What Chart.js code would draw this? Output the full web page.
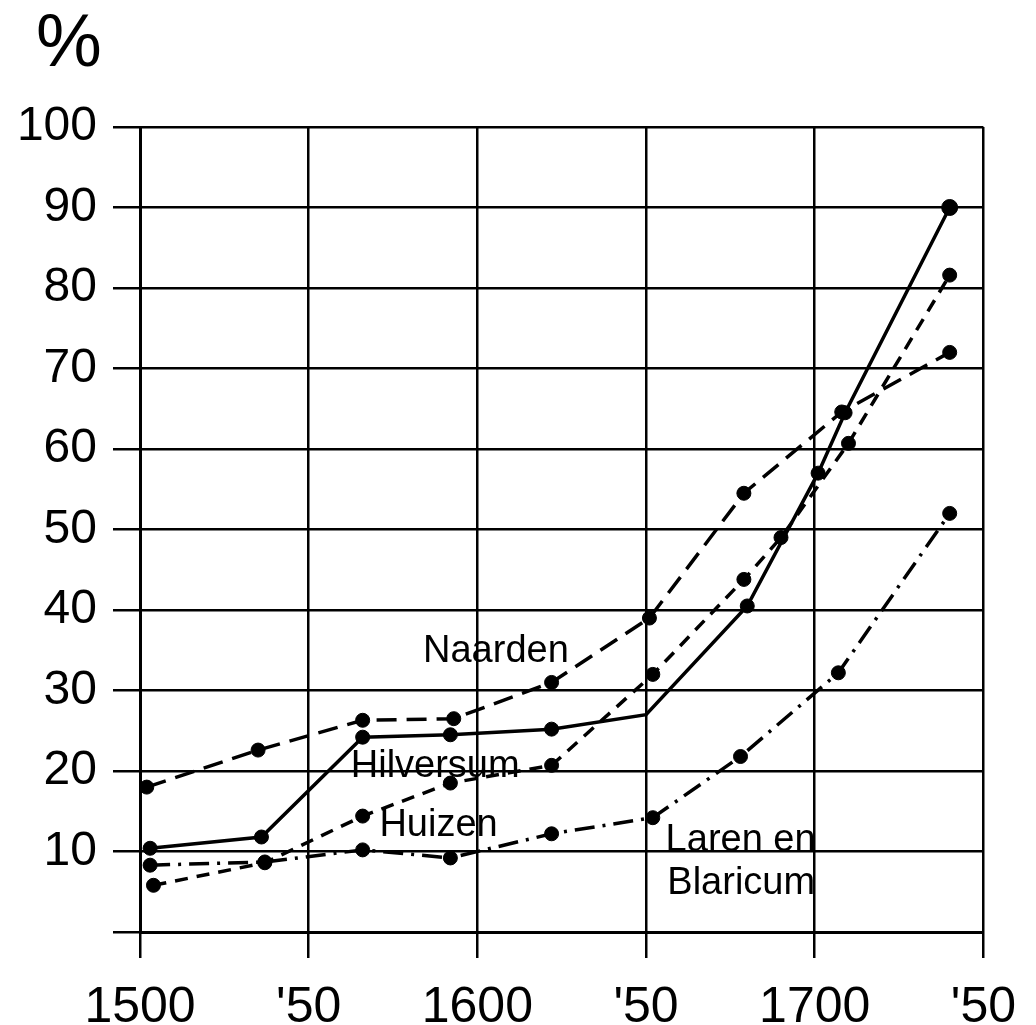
<!DOCTYPE html>
<html>
<head>
<meta charset="utf-8">
<script src="https://cdn.jsdelivr.net/npm/chart.js@4"></script>
<style>
  html, body { margin: 0; padding: 0; background: #fff; }
  #wrap { position: relative; width: 1036px; height: 1025px; }
</style>
</head>
<body>
<div id="wrap"><canvas id="myCanvas"></canvas></div>
<script>
/* values (share in %, per year) */
var naardenYears  = [1502, 1535, 1566, 1593, 1622, 1651, 1679, 1708, 1740];
var naardenValues = [18, 22.6, 26.3, 26.5, 31, 39, 54.5, 64.6, 72];

var hilversumYears  = [1503, 1536, 1566, 1592, 1622, 1650, 1680, 1701, 1709, 1740];
var hilversumValues = [10.4, 11.8, 24.2, 24.5, 25.2, 27, 40.5, 57, 64.5, 90];

var huizenYears  = [1504, 1537, 1566, 1592, 1622, 1652, 1679, 1690, 1710, 1740];
var huizenValues = [5.8, 8.6, 14.4, 18.5, 20.7, 32, 43.8, 49, 60.7, 81.6];

var larenYears  = [1503, 1537, 1566, 1592, 1622, 1652, 1678, 1707, 1740];
var larenValues = [8.3, 8.7, 10.2, 9.2, 12.2, 14.2, 21.8, 32.2, 52];

var xTickLabels = {1500: '1500', 1550: "'50", 1600: '1600', 1650: "'50", 1700: '1700', 1750: "'50"};

var FONT = '"Liberation Sans", Arial, Helvetica, sans-serif';

/* turns two arrays into the {x, y} points Chart.js wants */
function toPoints(years, values) {
  return years.map(function(y, i) { return {x: y, y: values[i]}; });
}

/* names written next to the lines, plus the % sign above the y axis */
var lineLabels = {
  id: 'lineLabels',
  afterDraw: function(chart) {
    var ctx = chart.ctx;
    var xs = chart.scales.x, ys = chart.scales.y;
    ctx.save();
    ctx.fillStyle = '#000';
    ctx.textBaseline = 'middle';
    ctx.font = '38px ' + FONT;
    ctx.textAlign = 'center';
    ctx.fillText('Naarden', xs.getPixelForValue(1605.5), ys.getPixelForValue(34.8));
    ctx.fillText('Hilversum', xs.getPixelForValue(1587.5), ys.getPixelForValue(20.6));
    ctx.fillText('Huizen', xs.getPixelForValue(1588.5), ys.getPixelForValue(13.2));
    ctx.textAlign = 'left';
    ctx.fillText('Laren en', xs.getPixelForValue(1655.8), ys.getPixelForValue(11.4));
    ctx.fillText('Blaricum', xs.getPixelForValue(1656.3), ys.getPixelForValue(6.0));
    ctx.font = '74px ' + FONT;
    ctx.textAlign = 'center';
    ctx.fillText('%', 69, 46);
    ctx.restore();
  }
};

var ctx = document.getElementById('myCanvas');
var myChart = new Chart(ctx, {
  type: 'line',
  data: {
    datasets: [{
        label: 'Naarden',
        data: toPoints(naardenYears, naardenValues),
        borderDash: [20, 10]
      },
      {
        label: 'Hilversum',
        data: toPoints(hilversumYears, hilversumValues),
        pointRadius: [7, 7, 7, 7, 7, 0, 7, 7, 7, 8],
        borderDash: []
      },
      {
        label: 'Huizen',
        data: toPoints(huizenYears, huizenValues),
        borderDash: [13, 9]
      },
      {
        label: 'Laren en Blaricum',
        data: toPoints(larenYears, larenValues),
        borderDash: [20, 8, 3, 8]
      }]
  },
  options: {
    responsive: true,
    maintainAspectRatio: false,
    animation: false,
    layout: {
      padding: { top: 127, right: 51, left: 0, bottom: 0 }
    },
    elements: {
      line: { borderColor: '#000', borderWidth: 3.5, tension: 0, fill: false },
      point: { radius: 7, backgroundColor: '#000', borderColor: '#000', hoverRadius: 7 }
    },
    plugins: {
      legend: { display: false },
      tooltip: { enabled: false }
    },
    scales: {
      x: {
        type: 'linear',
        min: 1500,
        max: 1750,
        afterFit: function(scale) { scale.height = 93; },
        ticks: {
          stepSize: 50,
          padding: 20,
          color: '#000',
          font: { family: FONT, size: 50 },
          maxRotation: 0,
          callback: function(v) { return xTickLabels[v] || ''; }
        },
        grid: { color: '#000', lineWidth: 2.5, tickLength: 26, drawTicks: true },
        border: { color: '#000', width: 3 }
      },
      y: {
        min: 0,
        max: 100,
        afterFit: function(scale) { scale.width = 140; },
        ticks: {
          stepSize: 10,
          padding: 16,
          color: '#000',
          font: { family: FONT, size: 48 },
          callback: function(v) { return v === 0 ? '' : v; }
        },
        grid: { color: '#000', lineWidth: 2.5, tickLength: 27 },
        border: { color: '#000', width: 3 }
      }
    }
  },
  plugins: [lineLabels]
});
</script>
</body>
</html>
